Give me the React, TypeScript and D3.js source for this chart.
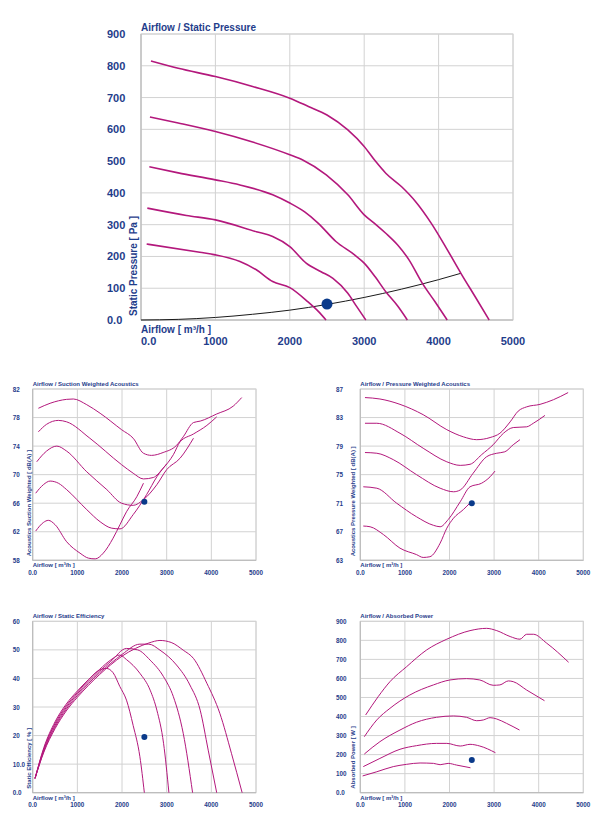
import React from "react";
import * as d3 from "d3";

type Pt = [number, number];

const FONT = '"Liberation Sans", Arial, Helvetica, sans-serif';
const INK = "#1f3d8b";
const CURVE = "#b3187c";
const DOT = "#0a3a8a";
const GRID = "#d2d2d2";
const FRAME = "#b8b8b8";

const AIRFLOW_TICKS = [0, 1000, 2000, 3000, 4000, 5000];
const AIRFLOW_LABELS = ["0.0", "1000", "2000", "3000", "4000", "5000"];

// Static pressure [Pa], five speed steps
const PRESSURE_TICKS = [0, 100, 200, 300, 400, 500, 600, 700, 800, 900];
const PRESSURE_LABELS = ["0.0", "100", "200", "300", "400", "500", "600", "700", "800", "900"];
const pressure1: Pt[] = [[134, 815], [500, 792], [1000, 766], [1500, 735], [2000, 698], [2250, 672], [2500, 645], [2780, 598], [3000, 546], [3150, 500], [3290, 462], [3500, 420], [3700, 370], [3900, 305], [4100, 228], [4300, 147], [4500, 70], [4680, 0]];
const pressure2: Pt[] = [[120, 639], [500, 620], [1000, 593], [1500, 560], [2000, 520], [2180, 503], [2490, 457], [2780, 394], [3000, 331], [3150, 302], [3290, 273], [3450, 236], [3600, 190], [3780, 116], [3950, 58], [4116, 0]];
const pressure3: Pt[] = [[112, 482], [500, 463], [1000, 441], [1330, 425], [1770, 394], [2000, 368], [2200, 340], [2380, 305], [2620, 247], [2870, 205], [3000, 179], [3150, 135], [3290, 89], [3450, 44], [3580, 0]];
const pressure4: Pt[] = [[85, 352], [610, 329], [1000, 315], [1550, 278], [1770, 263], [2000, 231], [2220, 179], [2420, 152], [2580, 131], [2780, 84], [2900, 42], [3022, 0]];
const pressure5: Pt[] = [[76, 239], [790, 213], [1000, 205], [1330, 184], [1550, 158], [1770, 121], [2000, 102], [2240, 58], [2380, 28], [2487, 0]];
const systemCurve: Pt[] = [[0, 0], [500, 2], [1000, 8], [1500, 18], [2000, 31], [2500, 49], [3000, 71], [3500, 97], [4000, 127], [4300, 147]];

// Suction weighted acoustics [dB(A)]
const SUCTION_TICKS = [58, 62, 66, 70, 74, 78, 82];
const SUCTION_LABELS = ["58", "62", "66", "70", "74", "78", "82"];
const suction1: Pt[] = [[127, 79.3], [390, 80.0], [760, 80.55], [910, 80.6], [1210, 79.8], [1510, 78.6], [1990, 76.3], [2250, 75.1], [2480, 73.0], [2660, 72.7], [2920, 73.1], [3220, 74.1], [3370, 75.3], [3600, 77.3], [3750, 77.5], [4120, 78.5], [4490, 79.6], [4680, 80.8]];
const suction2: Pt[] = [[127, 76.0], [310, 77.05], [575, 77.6], [760, 77.4], [1280, 75.1], [1990, 71.4], [2250, 70.2], [2480, 69.4], [2700, 69.6], [2920, 70.9], [3150, 72.8], [3300, 74.6], [3600, 75.7], [3900, 76.9], [4120, 78.1]];
const suction3: Pt[] = [[90, 71.8], [310, 73.3], [540, 74.0], [760, 73.3], [1210, 70.4], [1660, 67.9], [1990, 66.0], [2250, 65.7], [2480, 66.5], [2780, 68.6], [3000, 70.7], [3300, 72.3], [3600, 75.1]];
const suction4: Pt[] = [[67, 67.4], [240, 68.6], [390, 69.1], [575, 68.8], [760, 67.9], [1210, 65.1], [1510, 63.4], [1770, 62.5], [1955, 62.4], [2250, 64.4], [2550, 67.2], [2780, 69.7], [3000, 71.5]];
const suction5: Pt[] = [[67, 62.1], [240, 63.3], [350, 63.6], [500, 63.0], [760, 60.6], [1060, 59.0], [1250, 58.3], [1400, 58.2], [1580, 59.0], [1800, 61.1], [1955, 63.0], [2100, 64.8], [2330, 66.9], [2480, 68.8]];

// Pressure weighted acoustics [dB(A)]
const DISCHARGE_TICKS = [63, 67, 71, 75, 79, 83, 87];
const DISCHARGE_LABELS = ["63", "67", "71", "75", "79", "83", "87"];
const discharge1: Pt[] = [[105, 85.8], [440, 85.6], [890, 84.85], [1410, 83.4], [1940, 81.3], [2310, 80.3], [2610, 79.9], [2910, 80.2], [3130, 80.8], [3360, 82.4], [3540, 83.9], [3730, 84.5], [4030, 84.85], [4330, 85.5], [4660, 86.5]];
const discharge2: Pt[] = [[105, 82.2], [370, 82.2], [890, 80.8], [1410, 78.7], [1940, 76.8], [2240, 76.3], [2460, 76.45], [2720, 77.8], [2980, 79.2], [3210, 80.8], [3430, 81.6], [3730, 81.7], [3880, 82.2], [4140, 83.3]];
const discharge3: Pt[] = [[105, 78.1], [370, 78.0], [740, 77.1], [1260, 75.0], [1790, 73.1], [2090, 72.6], [2240, 72.85], [2530, 75.2], [2830, 77.5], [3060, 78.0], [3240, 78.2], [3430, 79.2], [3580, 79.9]];
const discharge4: Pt[] = [[67, 73.3], [370, 73.1], [815, 71.0], [1260, 69.1], [1640, 67.9], [1790, 67.7], [1970, 68.7], [2240, 71.2], [2460, 73.3], [2720, 73.8], [2910, 74.7], [3020, 75.5]];
const discharge5: Pt[] = [[67, 67.8], [220, 67.7], [520, 66.6], [890, 64.7], [1260, 63.8], [1410, 63.4], [1560, 63.5], [1790, 65.4], [1940, 67.5], [2090, 68.9], [2310, 70.1], [2470, 71.1]];

// Static efficiency [%]
const EFFICIENCY_TICKS = [0, 10, 20, 30, 40, 50, 60];
const EFFICIENCY_LABELS = ["0.0", "10.0", "20", "30", "40", "50", "60"];
const efficiency1: Pt[] = [[52, 5], [250, 15.8], [500, 24.8], [750, 31], [1000, 35.6], [1250, 39.6], [1450, 42.5], [1650, 43.5], [1800, 42], [1950, 37.2], [2100, 32.4], [2250, 23.5], [2400, 12.6], [2500, 0]];
const efficiency2: Pt[] = [[52, 5], [250, 15.4], [500, 24.2], [750, 30.4], [1000, 35.1], [1250, 39.5], [1500, 43.2], [1750, 46.5], [1950, 48.2], [2100, 46.6], [2400, 41.8], [2630, 35.9], [2780, 28.9], [2930, 17.3], [3050, 0]];
const efficiency3: Pt[] = [[52, 5], [250, 15.0], [500, 23.6], [750, 29.8], [1000, 34.6], [1250, 38.8], [1500, 42.6], [1750, 46.0], [2100, 50.5], [2350, 50.0], [2630, 46.4], [2930, 40.6], [3150, 33.6], [3370, 20.8], [3580, 0]];
const efficiency4: Pt[] = [[52, 5], [250, 14.6], [500, 23.0], [750, 29.2], [1000, 34.0], [1250, 38.2], [1500, 42.0], [1750, 45.3], [2000, 48.4], [2400, 52.0], [2600, 52.0], [2850, 49.9], [3220, 44.7], [3520, 37.7], [3750, 28.9], [3930, 14.9], [4120, 0]];
const efficiency5: Pt[] = [[52, 5], [250, 14.2], [500, 22.4], [750, 28.6], [1000, 33.4], [1250, 37.6], [1500, 41.4], [1750, 44.8], [2000, 47.8], [2300, 50.5], [2600, 52.4], [2850, 53.3], [3100, 52.6], [3370, 49.9], [3600, 47.0], [3900, 38.3], [4190, 27.8], [4450, 13.8], [4690, 0]];

// Absorbed power [W]
const POWER_TICKS = [0, 100, 200, 300, 400, 500, 600, 700, 800, 900];
const POWER_LABELS = ["0.0", "100", "200", "300", "400", "500", "600", "700", "800", "900"];
const power1: Pt[] = [[120, 408], [400, 504], [665, 583], [1040, 662], [1490, 750], [1940, 806], [2460, 851], [2830, 863], [3060, 851], [3360, 820], [3580, 806], [3730, 832], [3880, 832], [4180, 785], [4670, 685]];
const power2: Pt[] = [[90, 294], [370, 382], [665, 443], [1110, 513], [1640, 566], [2010, 592], [2380, 599], [2680, 592], [2980, 564], [3130, 566], [3320, 587], [3430, 583], [3730, 539], [4130, 483]];
const power3: Pt[] = [[90, 203], [440, 268], [890, 329], [1260, 370], [1710, 396], [2090, 403], [2380, 396], [2610, 378], [2760, 382], [2910, 394], [3060, 387], [3280, 364], [3570, 329]];
const power4: Pt[] = [[67, 137], [440, 180], [890, 228], [1260, 247], [1710, 259], [1940, 259], [2240, 245], [2460, 254], [2680, 245], [3030, 210]];
const power5: Pt[] = [[52, 88], [370, 110], [740, 137], [1040, 149], [1340, 156], [1640, 154], [1790, 147], [1970, 154], [2160, 145], [2470, 131]];

// Duty point: airflow and the value read on each chart
const DUTY_AIRFLOW = 2500;
const DUTY_PRESSURE = 50;
const DUTY_SUCTION = 66.2;
const DUTY_DISCHARGE = 71.0;
const DUTY_EFFICIENCY = 19.5;
const DUTY_POWER = 172;

type PanelProps = {
  left: number;
  right: number;
  top: number;
  bottom: number;
  yDomain: [number, number];
  yTicks: number[];
  yLabels: string[];
  title: string;
  yTitle: string;
  curves: Pt[][];
  system?: Pt[];
  duty: Pt;
  labelX: number;
  yTitleX: number;
  big?: boolean;
};

function Panel(p: PanelProps) {
  const x = d3.scaleLinear().domain([0, 5000]).range([p.left, p.right]);
  const y = d3.scaleLinear().domain(p.yDomain).range([p.bottom, p.top]);
  const line = d3
    .line<Pt>()
    .x((d) => x(d[0]))
    .y((d) => y(d[1]))
    .curve(d3.curveMonotoneX);

  const tickSize = p.big ? 11 : 6.3;
  const titleSize = p.big ? 10 : 6;
  const strokeW = p.big ? 1.6 : 1;
  const xTitleY = p.bottom + (p.big ? 12.5 : 6.8);
  const xTickY = p.bottom + (p.big ? 25 : 14.5);

  return (
    <g fontFamily={FONT} fill={INK} fontWeight="bold">
      {/* grid */}
      {p.yTicks.map((t) => (
        <line key={"h" + t} x1={p.left} x2={p.right} y1={y(t)} y2={y(t)} stroke={GRID} strokeWidth={1} />
      ))}
      {AIRFLOW_TICKS.map((t) => (
        <line key={"v" + t} x1={x(t)} x2={x(t)} y1={p.top} y2={p.bottom} stroke={GRID} strokeWidth={1} />
      ))}
      <rect x={p.left} y={p.top} width={p.right - p.left} height={p.bottom - p.top} fill="none" stroke={GRID} />
      <line x1={p.left} x2={p.left} y1={p.top} y2={p.bottom} stroke={FRAME} />
      <line x1={p.left} x2={p.right} y1={p.bottom} y2={p.bottom} stroke={FRAME} />

      {/* curves */}
      {p.system && <path d={line(p.system) || ""} fill="none" stroke="#1a1a1a" strokeWidth={p.big ? 1 : 0.8} />}
      {p.curves.map((c, i) => (
        <path key={i} d={line(c) || ""} fill="none" stroke={CURVE} strokeWidth={strokeW} />
      ))}
      <circle cx={x(p.duty[0])} cy={y(p.duty[1])} r={p.big ? 5.5 : 3} fill={DOT} />

      {/* labels */}
      <text x={p.left} y={p.top - 3} fontSize={titleSize}>
        {p.title}
      </text>
      {p.yTicks.map((t, i) => (
        <text key={"yl" + t} x={p.labelX} y={y(t)} fontSize={tickSize} dominantBaseline="central">
          {p.yLabels[i]}
        </text>
      ))}
      <text
        transform={`translate(${p.yTitleX},${p.bottom - 4}) rotate(-90)`}
        fontSize={titleSize}
      >
        {p.yTitle}
      </text>
      <text x={p.left} y={xTitleY} fontSize={titleSize}>
        Airflow [ m³/h ]
      </text>
      {AIRFLOW_TICKS.map((t, i) => (
        <text
          key={"xl" + t}
          x={x(t)}
          y={xTickY}
          fontSize={tickSize}
          textAnchor={p.big && i === 0 ? "start" : "middle"}
        >
          {AIRFLOW_LABELS[i]}
        </text>
      ))}
    </g>
  );
}

export default function App() {
  return (
    <div style={{ position: "absolute", left: 0, top: 0, background: "#fff" }}>
      <svg width={608} height={823} style={{ display: "block" }}>
        <rect width={608} height={823} fill="#fff" />
        <Panel
          big
          left={141}
          right={513}
          top={34}
          bottom={320}
          yDomain={[0, 900]}
          yTicks={PRESSURE_TICKS}
          yLabels={PRESSURE_LABELS}
          title="Airflow / Static Pressure"
          yTitle="Static Pressure [ Pa ]"
          curves={[pressure1, pressure2, pressure3, pressure4, pressure5]}
          system={systemCurve}
          duty={[DUTY_AIRFLOW, DUTY_PRESSURE]}
          labelX={107}
          yTitleX={137}
        />
        <Panel
          left={32.7}
          right={256}
          top={389}
          bottom={560.3}
          yDomain={[58, 82]}
          yTicks={SUCTION_TICKS}
          yLabels={SUCTION_LABELS}
          title="Airflow / Suction Weighted Acoustics"
          yTitle="Acoustics Suction Weighted [ dB(A) ]"
          curves={[suction1, suction2, suction3, suction4, suction5]}
          duty={[DUTY_AIRFLOW, DUTY_SUCTION]}
          labelX={12.7}
          yTitleX={30.5}
        />
        <Panel
          left={360.3}
          right={583.3}
          top={389}
          bottom={560.3}
          yDomain={[63, 87]}
          yTicks={DISCHARGE_TICKS}
          yLabels={DISCHARGE_LABELS}
          title="Airflow / Pressure Weighted Acoustics"
          yTitle="Acoustics Pressure Weighted [ dB(A) ]"
          curves={[discharge1, discharge2, discharge3, discharge4, discharge5]}
          duty={[DUTY_AIRFLOW, DUTY_DISCHARGE]}
          labelX={336}
          yTitleX={355}
        />
        <Panel
          left={32.7}
          right={256}
          top={621.3}
          bottom={792.7}
          yDomain={[0, 60]}
          yTicks={EFFICIENCY_TICKS}
          yLabels={EFFICIENCY_LABELS}
          title="Airflow / Static Efficiency"
          yTitle="Static Efficiency [ % ]"
          curves={[efficiency1, efficiency2, efficiency3, efficiency4, efficiency5]}
          duty={[DUTY_AIRFLOW, DUTY_EFFICIENCY]}
          labelX={12.7}
          yTitleX={30.5}
        />
        <Panel
          left={360.3}
          right={583.3}
          top={621.3}
          bottom={792.7}
          yDomain={[0, 900]}
          yTicks={POWER_TICKS}
          yLabels={POWER_LABELS}
          title="Airflow / Absorbed Power"
          yTitle="Absorbed Power [ W ]"
          curves={[power1, power2, power3, power4, power5]}
          duty={[DUTY_AIRFLOW, DUTY_POWER]}
          labelX={336}
          yTitleX={355}
        />
      </svg>
    </div>
  );
}
